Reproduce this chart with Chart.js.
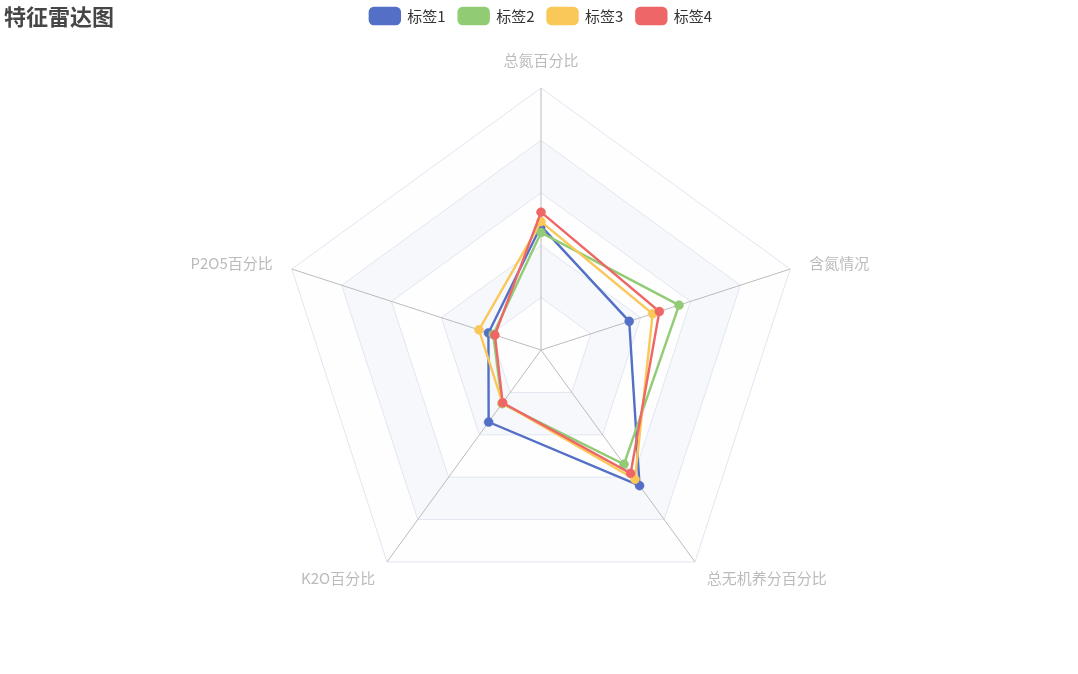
<!DOCTYPE html>
<html>
<head>
<meta charset="utf-8">
<script src="https://cdn.jsdelivr.net/npm/chart.js@4"></script>
<style>
  html, body { margin: 0; padding: 0; background: #ffffff; }
  #wrap { position: relative; width: 1078px; height: 674px; }
</style>
</head>
<body>
<div id="wrap"><canvas id="c" width="1078" height="674"></canvas></div>
<script>
// ---- data ----
const chartTitle = '特征雷达图';
const indicators = ['总氮百分比', '含氮情况', '总无机养分百分比', 'K2O百分比', 'P2O5百分比'];
const seriesNames = ['标签1', '标签2', '标签3', '标签4'];
const series1 = [47.3, 35.4, 64.0, 34.0, 21.1];
const series2 = [44.8, 55.4, 53.9, 25.3, 19.2];
const series3 = [49.0, 44.8, 61.0, 25.0, 24.9];
const series4 = [52.6, 47.5, 58.2, 24.9, 18.5];
const scaleMax = 100;
const scaleStep = 20;

const colors = ['#5470c6', '#91cc75', '#fac858', '#ee6666'];
const seriesValues = [series1, series2, series3, series4];
const FONT = '"Microsoft YaHei", "Noto Sans CJK SC", "Noto Sans", sans-serif';

// alternating split areas (ECharts style)
const splitAreaPlugin = {
  id: 'splitArea',
  beforeDraw(chart) {
    const scale = chart.scales.r;
    if (!scale) return;
    const ctx = chart.ctx;
    const n = indicators.length;
    const bandColors = ['rgba(250,250,250,0.2)', 'rgba(210,219,238,0.2)'];
    const rings = Math.round(scaleMax / scaleStep);
    ctx.save();
    for (let k = rings; k >= 1; k--) {
      ctx.beginPath();
      for (let i = 0; i < n; i++) {
        const p = scale.getPointPositionForValue(i, k * scaleStep);
        if (i === 0) ctx.moveTo(p.x, p.y); else ctx.lineTo(p.x, p.y);
      }
      ctx.closePath();
      if (k > 1) {
        for (let i = n - 1; i >= 0; i--) {
          const p = scale.getPointPositionForValue(i, (k - 1) * scaleStep);
          if (i === n - 1) ctx.moveTo(p.x, p.y); else ctx.lineTo(p.x, p.y);
        }
        ctx.closePath();
      }
      ctx.fillStyle = bandColors[(k - 1) % 2];
      ctx.fill('evenodd');
    }
    ctx.restore();
  }
};

const titlePlugin = {
  id: 'cornerTitle',
  afterDraw(chart) {
    const ctx = chart.ctx;
    ctx.save();
    ctx.font = 'bold 22px ' + FONT;
    ctx.fillStyle = '#464646';
    ctx.textAlign = 'left';
    ctx.textBaseline = 'middle';
    ctx.fillText(chartTitle, 4, 17);
    ctx.restore();
  }
};

const datasets = seriesNames.map((name, i) => ({
  label: name,
  data: seriesValues[i],
  borderColor: colors[i],
  backgroundColor: colors[i],
  pointBackgroundColor: colors[i],
  pointBorderColor: colors[i],
  pointRadius: 4.5,
  pointBorderWidth: 0.5,
  pointHoverRadius: 5,
  borderWidth: 2.4,
  fill: false,
  tension: 0,
  order: seriesNames.length - i
}));

new Chart(document.getElementById('c'), {
  type: 'radar',
  data: { labels: indicators, datasets },
  plugins: [splitAreaPlugin, titlePlugin],
  options: {
    responsive: false,
    animation: false,
    layout: { padding: { top: -5, left: 4, right: 0, bottom: 44 } },
    plugins: {
      title: { display: false },
      tooltip: { enabled: false },
      legend: {
        display: true,
        position: 'top',
        align: 'center',
        labels: {
          boxWidth: 30,
          boxHeight: 16,
          useBorderRadius: true,
          borderRadius: 4,
          padding: 13,
          color: '#333',
          font: { size: 15, family: FONT },
          sort: (a, b) => a.datasetIndex - b.datasetIndex
        }
      }
    },
    scales: {
      r: {
        min: 0,
        max: scaleMax,
        startAngle: 0,
        beginAtZero: true,
        ticks: { display: false, stepSize: scaleStep },
        grid: { color: '#E0E6F1', lineWidth: 1, circular: false },
        angleLines: { color: '#bbbbbb', lineWidth: 1 },
        pointLabels: {
          display: true,
          color: '#bbbbbb',
          padding: (ctx) => 20,
          font: (ctx) => ({ size: 15, family: FONT, lineHeight: ctx.index === 0 ? '16px' : '0px' })
        }
      }
    }
  }
});
</script>
</body>
</html>
